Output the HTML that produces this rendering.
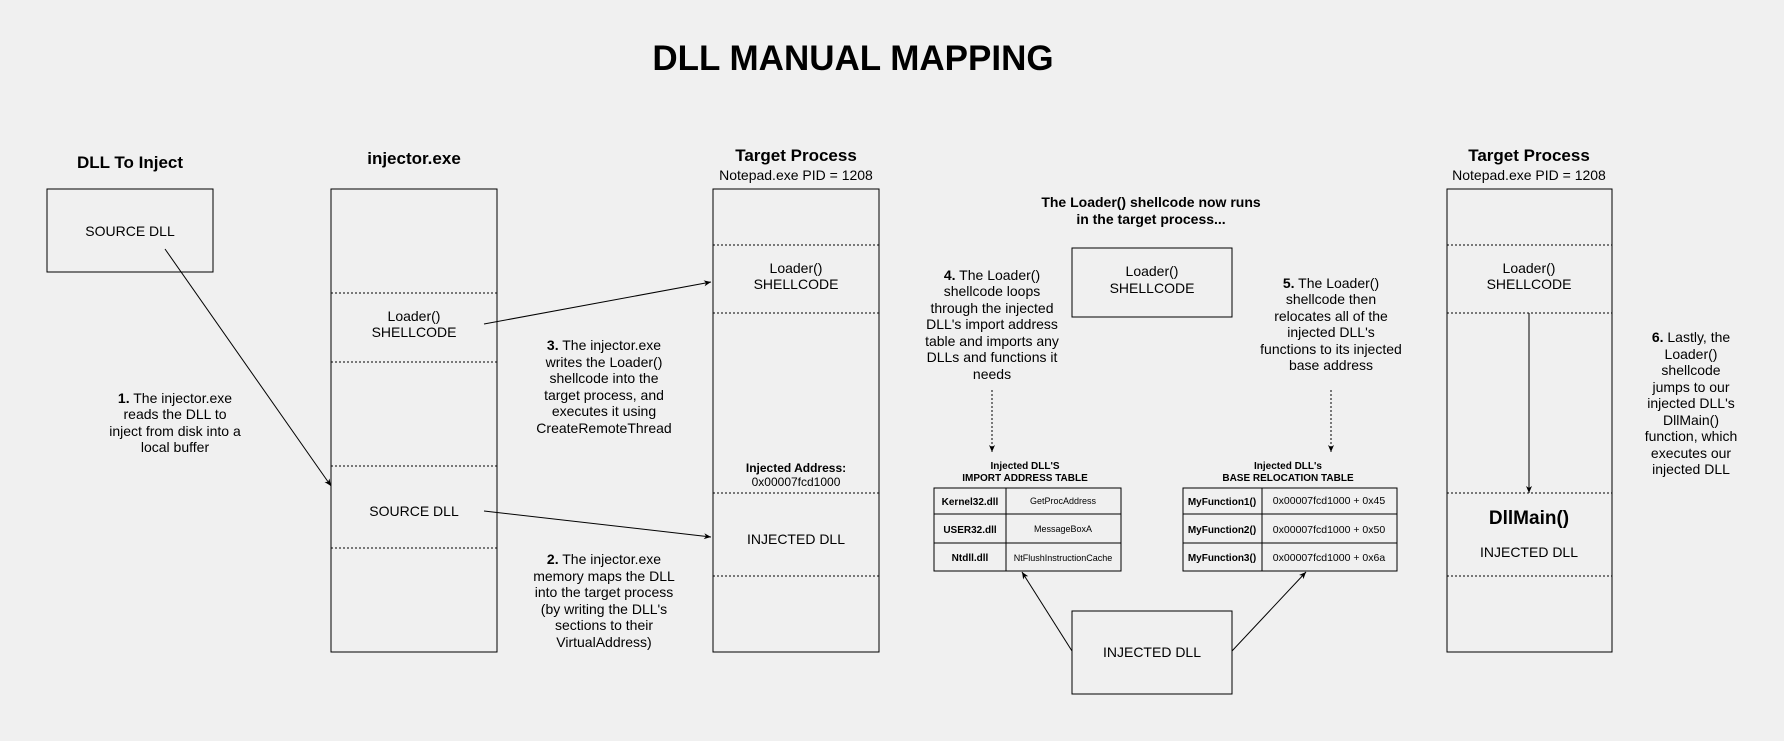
<!DOCTYPE html>
<html><head><meta charset="utf-8"><style>
html,body{margin:0;padding:0;background:#f0f0f0;}
svg{display:block;font-family:"Liberation Sans",Arial,sans-serif;}
</style></head><body>
<svg width="1784" height="741" viewBox="0 0 1784 741" xmlns="http://www.w3.org/2000/svg">
<defs>
<marker id="ah" markerWidth="8" markerHeight="8" refX="7" refY="4" orient="auto" markerUnits="userSpaceOnUse">
<path d="M0,1 L7,4 L0,7 L2,4 Z" fill="#000"/></marker>
</defs>
<rect width="1784" height="741" fill="#f0f0f0"/>
<g fill="#000" text-anchor="middle">
<text x="853" y="70" font-size="35" font-weight="bold">DLL MANUAL MAPPING</text>
<text x="130" y="168" font-size="17" font-weight="bold">DLL To Inject</text>
<text x="414" y="164" font-size="17" font-weight="bold">injector.exe</text>
<text x="796" y="161" font-size="17" font-weight="bold">Target Process</text>
<text x="796" y="180" font-size="14">Notepad.exe PID = 1208</text>
<text x="1529" y="161" font-size="17" font-weight="bold">Target Process</text>
<text x="1529" y="180" font-size="14">Notepad.exe PID = 1208</text>
<text x="1151" y="207" font-size="14" font-weight="bold">The Loader() shellcode now runs</text>
<text x="1151" y="224" font-size="14" font-weight="bold">in the target process...</text>
</g>
<g fill="none" stroke="#000" stroke-width="1">
<rect x="47" y="189" width="166" height="83"/>
<rect x="331" y="189" width="166" height="463"/>
<rect x="713" y="189" width="166" height="463"/>
<rect x="1447" y="189" width="165" height="463"/>
<rect x="1072" y="248" width="160" height="69"/>
<rect x="1072" y="611" width="160" height="83"/>
</g>
<g stroke="#000" stroke-width="1" stroke-dasharray="2,2">
<line x1="331" y1="293" x2="497" y2="293"/><line x1="331" y1="362" x2="497" y2="362"/>
<line x1="331" y1="466" x2="497" y2="466"/><line x1="331" y1="548" x2="497" y2="548"/>
<line x1="713" y1="245" x2="879" y2="245"/><line x1="713" y1="313" x2="879" y2="313"/>
<line x1="713" y1="493" x2="879" y2="493"/><line x1="713" y1="576" x2="879" y2="576"/>
<line x1="1447" y1="245" x2="1612" y2="245"/><line x1="1447" y1="313" x2="1612" y2="313"/>
<line x1="1447" y1="493" x2="1612" y2="493"/><line x1="1447" y1="576" x2="1612" y2="576"/>
<line x1="992" y1="390" x2="992" y2="452" marker-end="url(#ah)"/>
<line x1="1331" y1="390" x2="1331" y2="452" marker-end="url(#ah)"/>
</g>
<g stroke="#000" stroke-width="1" fill="none">
<line x1="165" y1="249" x2="331" y2="486" marker-end="url(#ah)"/>
<line x1="484" y1="324" x2="711" y2="282" marker-end="url(#ah)"/>
<line x1="484" y1="511" x2="711" y2="537" marker-end="url(#ah)"/>
<line x1="1529" y1="313" x2="1529" y2="493" marker-end="url(#ah)"/>
<line x1="1072" y1="651" x2="1022" y2="572" marker-end="url(#ah)"/>
<line x1="1232" y1="651" x2="1306" y2="572" marker-end="url(#ah)"/>
<rect x="934" y="488" width="187" height="83"/>
<line x1="934" y1="514" x2="1121" y2="514"/><line x1="934" y1="543" x2="1121" y2="543"/>
<line x1="1006" y1="488" x2="1006" y2="571"/>
<rect x="1183" y="488" width="214" height="83"/>
<line x1="1183" y1="514" x2="1397" y2="514"/><line x1="1183" y1="543" x2="1397" y2="543"/>
<line x1="1262" y1="488" x2="1262" y2="571"/>
</g>
<g fill="#000" text-anchor="middle" font-size="14">
<text x="130" y="236">SOURCE DLL</text>
<text x="414" y="321">Loader()</text><text x="414" y="337">SHELLCODE</text>
<text x="414" y="516">SOURCE DLL</text>
<text x="796" y="273">Loader()</text><text x="796" y="289">SHELLCODE</text>
<text x="796" y="472" font-size="12" font-weight="bold">Injected Address:</text>
<text x="796" y="486" font-size="12">0x00007fcd1000</text>
<text x="796" y="544">INJECTED DLL</text>
<text x="1152" y="276">Loader()</text><text x="1152" y="293">SHELLCODE</text>
<text x="1152" y="657">INJECTED DLL</text>
<text x="1529" y="273">Loader()</text><text x="1529" y="289">SHELLCODE</text>
<text x="1529" y="524" font-size="19" font-weight="bold">DllMain()</text>
<text x="1529" y="557">INJECTED DLL</text>
<text x="175" y="403"><tspan font-weight="bold">1.</tspan> The injector.exe</text>
<text x="175" y="419">reads the DLL to</text>
<text x="175" y="436">inject from disk into a</text>
<text x="175" y="452">local buffer</text>
<text x="604" y="350"><tspan font-weight="bold">3.</tspan> The injector.exe</text>
<text x="604" y="367">writes the Loader()</text>
<text x="604" y="383">shellcode into the</text>
<text x="604" y="400">target process, and</text>
<text x="604" y="416">executes it using</text>
<text x="604" y="433">CreateRemoteThread</text>
<text x="604" y="564"><tspan font-weight="bold">2.</tspan> The injector.exe</text>
<text x="604" y="581">memory maps the DLL</text>
<text x="604" y="597">into the target process</text>
<text x="604" y="614">(by writing the DLL's</text>
<text x="604" y="630">sections to their</text>
<text x="604" y="647">VirtualAddress)</text>
<text x="992" y="280"><tspan font-weight="bold">4.</tspan> The Loader()</text>
<text x="992" y="296">shellcode loops</text>
<text x="992" y="313">through the injected</text>
<text x="992" y="329">DLL's import address</text>
<text x="992" y="346">table and imports any</text>
<text x="992" y="362">DLLs and functions it</text>
<text x="992" y="379">needs</text>
<text x="1331" y="288"><tspan font-weight="bold">5.</tspan> The Loader()</text>
<text x="1331" y="304">shellcode then</text>
<text x="1331" y="321">relocates all of the</text>
<text x="1331" y="337">injected DLL's</text>
<text x="1331" y="354">functions to its injected</text>
<text x="1331" y="370">base address</text>
<text x="1691" y="342"><tspan font-weight="bold">6.</tspan> Lastly, the</text>
<text x="1691" y="359">Loader()</text>
<text x="1691" y="375">shellcode</text>
<text x="1691" y="392">jumps to our</text>
<text x="1691" y="408">injected DLL's</text>
<text x="1691" y="425">DllMain()</text>
<text x="1691" y="441">function, which</text>
<text x="1691" y="458">executes our</text>
<text x="1691" y="474">injected DLL</text>
</g>
<g fill="#000" text-anchor="middle" font-size="10">
<text x="1025" y="469" font-weight="bold">Injected DLL'S</text>
<text x="1025" y="481" font-weight="bold">IMPORT ADDRESS TABLE</text>
<text x="1288" y="469" font-weight="bold">Injected DLL's</text>
<text x="1288" y="481" font-weight="bold">BASE RELOCATION TABLE</text>
<text x="970" y="505" font-weight="bold">Kernel32.dll</text>
<text x="970" y="533" font-weight="bold">USER32.dll</text>
<text x="970" y="561" font-weight="bold">Ntdll.dll</text>
<text x="1063" y="504" font-size="9">GetProcAddress</text>
<text x="1063" y="532" font-size="9">MessageBoxA</text>
<text x="1063" y="561" font-size="9">NtFlushInstructionCache</text>
<text x="1222" y="505" font-weight="bold">MyFunction1()</text>
<text x="1222" y="533" font-weight="bold">MyFunction2()</text>
<text x="1222" y="561" font-weight="bold">MyFunction3()</text>
<text x="1329" y="504" font-size="10.5">0x00007fcd1000 + 0x45</text>
<text x="1329" y="533" font-size="10.5">0x00007fcd1000 + 0x50</text>
<text x="1329" y="561" font-size="10.5">0x00007fcd1000 + 0x6a</text>
</g>
</svg>
</body></html>
